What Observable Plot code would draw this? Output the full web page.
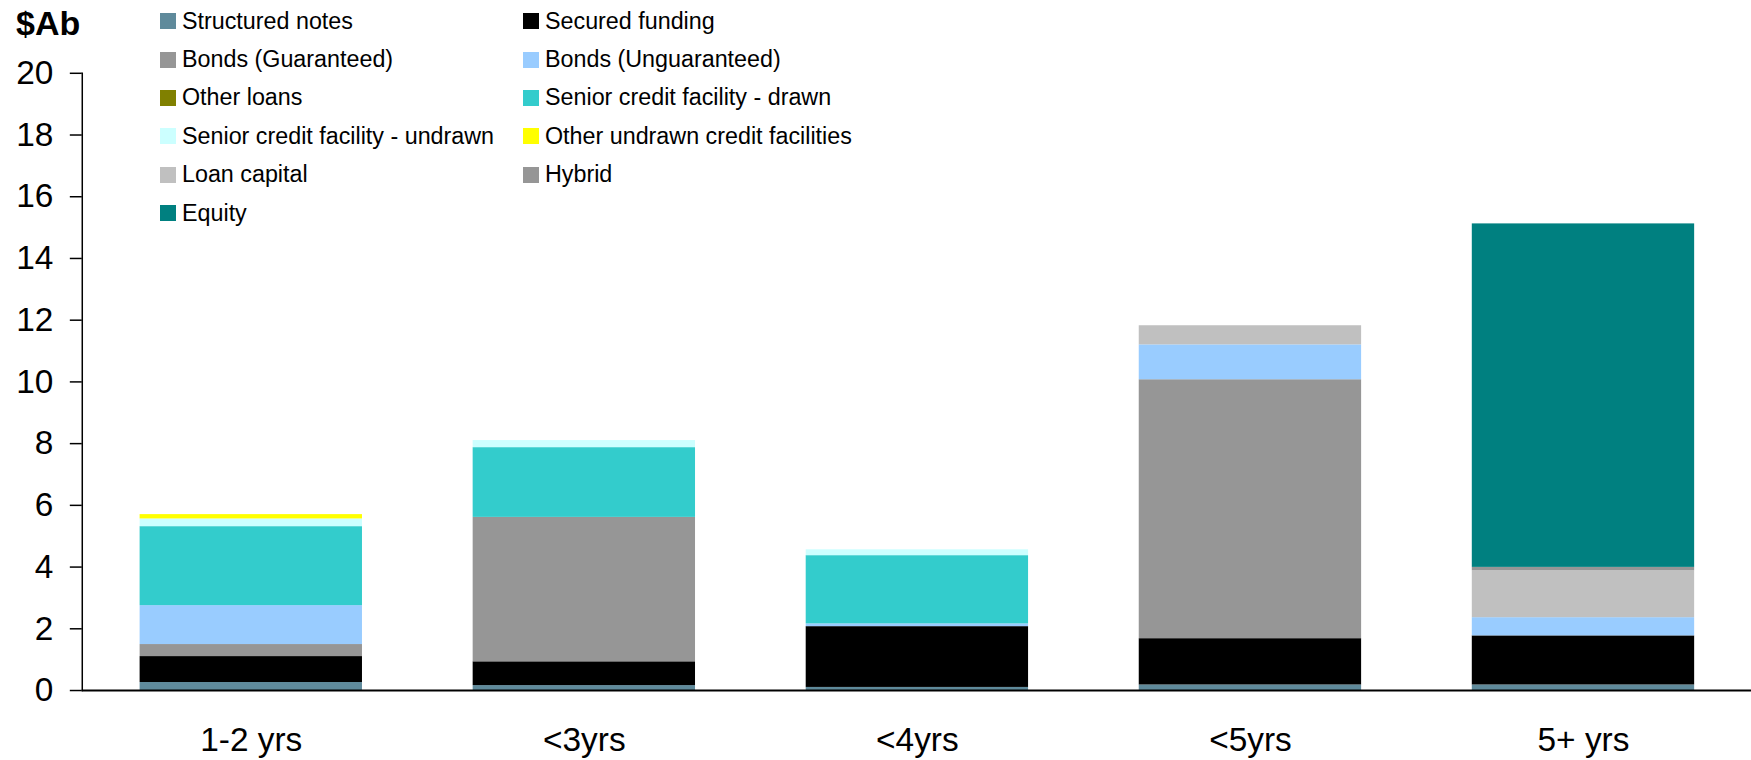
<!DOCTYPE html>
<html>
<head>
<meta charset="utf-8">
<script src="https://cdn.jsdelivr.net/npm/d3@7"></script>
<script src="https://cdn.jsdelivr.net/npm/@observablehq/plot@0.6"></script>
<style>
  html, body { margin: 0; padding: 0; background: #fff; overflow: hidden; }
  #wrap { position: relative; width: 1751px; height: 760px; overflow: hidden; font-family: "Liberation Sans", Arial, sans-serif; color: #000; }
  #unit { position: absolute; left: 16px; top: 6px; font-size: 34px; line-height: 34px; font-weight: bold; }
  #legend { position: absolute; left: 160px; top: 2px; display: grid; grid-template-columns: 363px auto; grid-auto-rows: 38.4px; }
  .item { display: flex; align-items: center; font-size: 23.3px; white-space: nowrap; }
  .sw { width: 16px; height: 16px; margin-right: 6px; flex: none; }
</style>
</head>
<body>
<div id="wrap">
  <div id="chart"></div>
  <div id="unit">$Ab</div>
  <div id="legend"></div>
</div>
<script>
const categories = ["1-2 yrs", "<3yrs", "<4yrs", "<5yrs", "5+ yrs"];
const series = [
  "Structured notes", "Secured funding", "Bonds (Guaranteed)", "Bonds (Unguaranteed)",
  "Other loans", "Senior credit facility - drawn", "Senior credit facility - undrawn",
  "Other undrawn credit facilities", "Loan capital", "Hybrid", "Equity"
];
const colors = ["#5f8a9b", "#000000", "#969696", "#99ccff", "#808000", "#33cccc", "#ccffff", "#ffff00", "#c0c0c0", "#969696", "#008080"];
const yTicks = [0, 2, 4, 6, 8, 10, 12, 14, 16, 18, 20];

const structuredNotes   = [0.26, 0.16, 0.10, 0.18, 0.18];
const securedFunding    = [0.84, 0.77, 1.97, 1.50, 1.59];
const bondsGuaranteed   = [0.39, 4.68, 0.00, 8.39, 0.00];
const bondsUnguaranteed = [1.26, 0.00, 0.09, 1.13, 0.59];
const otherLoans        = [0.00, 0.00, 0.00, 0.00, 0.00];
const seniorDrawn       = [2.56, 2.26, 2.21, 0.00, 0.00];
const seniorUndrawn     = [0.25, 0.23, 0.19, 0.00, 0.00];
const otherUndrawn      = [0.14, 0.00, 0.00, 0.00, 0.00];
const loanCapital       = [0.00, 0.00, 0.00, 0.62, 1.52];
const hybrid            = [0.00, 0.00, 0.00, 0.00, 0.11];
const equity            = [0.00, 0.00, 0.00, 0.00, 11.13];

const seriesValues = [structuredNotes, securedFunding, bondsGuaranteed, bondsUnguaranteed, otherLoans,
  seniorDrawn, seniorUndrawn, otherUndrawn, loanCapital, hybrid, equity];

const rows = [];
series.forEach((s, si) => {
  categories.forEach((c, ci) => {
    const v = seriesValues[si][ci];
    if (v > 0) rows.push({cat: c, series: s, value: v});
  });
});

const chart = Plot.plot({
  width: 1756,
  height: 760,
  marginLeft: 82,
  marginRight: 0,
  marginTop: 73,
  marginBottom: 68,
  style: {fontFamily: '"Liberation Sans", Arial, sans-serif', fontSize: "33.5px", color: "#000", background: "#fff"},
  x: {domain: categories, paddingInner: 0.333, paddingOuter: 0.1667, label: null},
  y: {domain: [0, 20], label: null},
  color: {domain: series, range: colors},
  marks: [
    Plot.barY(rows, {x: "cat", y: "value", fill: "series", order: series, inset: 0}),
    Plot.ruleY([0], {stroke: "#000", strokeWidth: 2}),
    Plot.frame({anchor: "left", stroke: "#000", strokeWidth: 1.5}),
    Plot.axisY({ticks: yTicks, tickSize: 12, tickPadding: 17, fontSize: 33.5, label: null, strokeWidth: 1.5}),
    Plot.axisX({tickSize: 0, tickPadding: 37, fontSize: 33.5, label: null})
  ]
});
document.getElementById("chart").appendChild(chart);

const legend = document.getElementById("legend");
series.forEach((s, i) => {
  const item = document.createElement("div");
  item.className = "item";
  const sw = document.createElement("span");
  sw.className = "sw";
  sw.style.background = colors[i];
  const t = document.createElement("span");
  t.textContent = s;
  item.appendChild(sw);
  item.appendChild(t);
  legend.appendChild(item);
});
</script>
</body>
</html>
